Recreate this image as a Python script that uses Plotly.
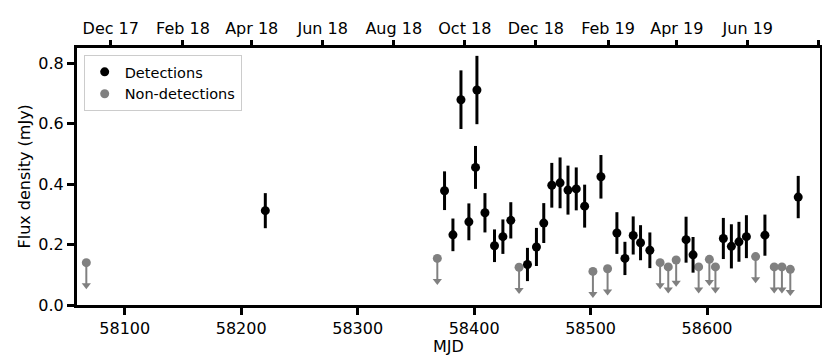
import datetime
import plotly.graph_objects as go

# detections: MJD, flux density (mJy), 1-sigma error
det_mjd = [58220.7, 58374.6, 58381.8, 58388.7, 58395.5, 58401.2, 58402.4, 58409.3,
           58417.5, 58424.7, 58431.5, 58445.8, 58453.5, 58459.8, 58466.7, 58473.8,
           58480.6, 58487.7, 58494.9, 58508.9, 58522.6, 58529.5, 58536.6, 58542.9,
           58550.9, 58582.0, 58588.0, 58614.0, 58620.9, 58627.4, 58633.8, 58649.7,
           58678.3]
det_flux = [0.312, 0.378, 0.232, 0.679, 0.275, 0.455, 0.711, 0.305,
            0.196, 0.226, 0.280, 0.134, 0.192, 0.271, 0.396, 0.404,
            0.380, 0.384, 0.327, 0.424, 0.238, 0.154, 0.230, 0.206,
            0.181, 0.216, 0.166, 0.220, 0.194, 0.209, 0.226, 0.231,
            0.357]
det_err = [0.058, 0.064, 0.054, 0.097, 0.061, 0.071, 0.113, 0.065,
           0.054, 0.057, 0.060, 0.055, 0.063, 0.066, 0.074, 0.084,
           0.081, 0.071, 0.071, 0.072, 0.069, 0.055, 0.063, 0.058,
           0.059, 0.076, 0.059, 0.068, 0.073, 0.066, 0.071, 0.068,
           0.070]

# non-detections: MJD, upper limit (mJy)
lim_mjd = [58067.0, 58368.4, 58438.6, 58502.0, 58514.6, 58559.7, 58566.7, 58573.5,
           58592.8, 58602.0, 58607.2, 58641.7, 58657.7, 58664.3, 58671.5]
lim_flux = [0.140, 0.154, 0.125, 0.111, 0.120, 0.140, 0.126, 0.149,
            0.126, 0.151, 0.126, 0.160, 0.126, 0.126, 0.118]

ARROW = 0.075
xr = [58059, 58697]
yr = [0, 0.85]


def mjd_to_date(m):
    return datetime.datetime(1858, 11, 17) + datetime.timedelta(days=m)


date_range = [mjd_to_date(v).isoformat() for v in xr]

fig = go.Figure()

fig.add_trace(go.Scatter(
    x=lim_mjd, y=lim_flux, mode="markers", name="Non-detections",
    marker=dict(color="grey", size=9),
    error_y=dict(type="data", symmetric=False, array=[0] * len(lim_mjd),
                 arrayminus=[ARROW] * len(lim_mjd), color="grey", thickness=2, width=0),
))
fig.add_trace(go.Scatter(
    x=lim_mjd, y=[f - ARROW for f in lim_flux], mode="markers", showlegend=False,
    marker=dict(color="grey", size=8, symbol="triangle-down"), hoverinfo="skip",
))
fig.add_trace(go.Scatter(
    x=det_mjd, y=det_flux, mode="markers", name="Detections",
    marker=dict(color="black", size=9),
    error_y=dict(type="data", array=det_err, color="black", thickness=3, width=0),
))
# dummy trace so the date axis on top is drawn
fig.add_trace(go.Scatter(
    x=date_range, y=[None, None], xaxis="x2", mode="markers",
    showlegend=False, hoverinfo="skip",
))

tick_style = dict(ticks="outside", ticklen=7, tickwidth=2.5, tickcolor="black",
                  showgrid=False, zeroline=False, automargin=False)

fig.update_layout(
    width=830, height=356,
    margin=dict(l=69, r=18, t=40, b=59),
    paper_bgcolor="white", plot_bgcolor="white",
    font=dict(family="DejaVu Sans", size=16, color="black"),
    legend=dict(x=0.009, y=0.973, xanchor="left", yanchor="top",
                bordercolor="#cccccc", borderwidth=1, bgcolor="white",
                font=dict(size=14.5), traceorder="reversed",
                tracegroupgap=0),
    xaxis=dict(range=xr, tick0=58000, dtick=100, tickformat="d", showline=True,
               linecolor="black", linewidth=3, mirror=True, **tick_style),
    xaxis2=dict(overlaying="x", side="top", type="date", range=date_range,
                tick0="2017-12-01", dtick="M2", tickformat="%b %y",
                showline=False, **tick_style),
    yaxis=dict(range=yr, dtick=0.2, tickformat=".1f", showline=True,
               linecolor="black", linewidth=3, mirror=True, **tick_style),
    annotations=[
        dict(text="MJD", xref="paper", yref="paper", x=0.5, y=-0.163,
             xanchor="center", yanchor="middle", showarrow=False),
        dict(text="Flux density (mJy)", xref="paper", yref="paper", x=-0.07,
             y=0.5, xanchor="center", yanchor="middle", textangle=-90,
             showarrow=False),
    ],
)

fig.write_html("out.html")
